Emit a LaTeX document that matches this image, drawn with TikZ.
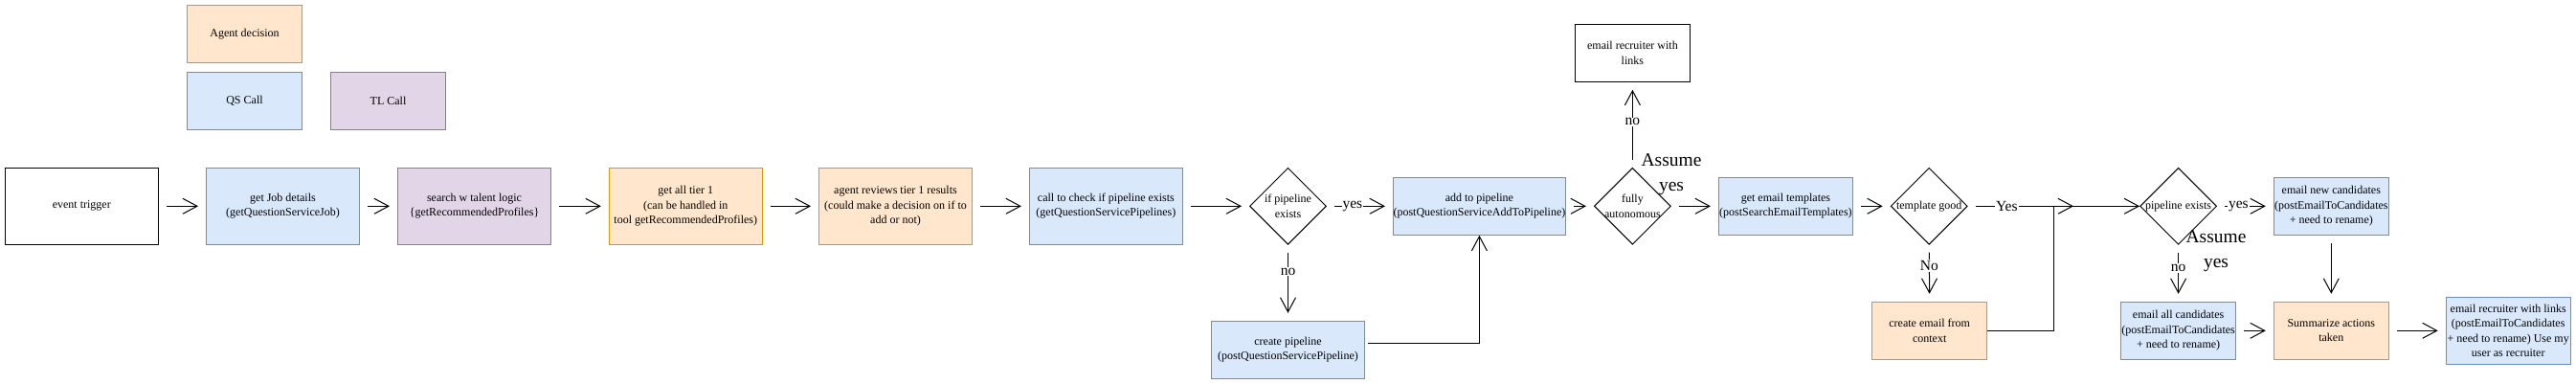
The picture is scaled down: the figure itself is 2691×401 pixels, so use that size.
\documentclass[tikz,border=0pt]{standalone}
\usepackage{fontspec}
\setmainfont{Liberation Serif}
\usetikzlibrary{arrows.meta,shapes.geometric,calc}
\definecolor{orF}{HTML}{FFE6CC}
\definecolor{orD}{HTML}{D79B00}
\definecolor{blF}{HTML}{DAE8FC}
\definecolor{blD}{HTML}{6C8EBF}
\definecolor{puF}{HTML}{E1D5E7}
\definecolor{puD}{HTML}{9673A6}
\tikzset{
  box/.style={rectangle, draw, line width=1pt, inner sep=0pt, align=center,
    font=\fontsize{12}{15.5}\selectfont, minimum width=120pt, minimum height=60pt},
  orbox/.style={box, fill=orF, draw=orD},
  blbox/.style={box, fill=blF, draw=blD},
  pubox/.style={box, fill=puF, draw=puD},
  wbox/.style={box, fill=white, draw=black},
  wide/.style={minimum width=160pt, minimum height=80pt},
  dia/.style={diamond, draw, line width=1pt, inner sep=0pt, minimum width=80pt,
    minimum height=80pt, fill=white},
  diatext/.style={inner sep=0pt, align=center, font=\fontsize{12}{15.5}\selectfont},
  conn/.style={draw, line width=1pt, -{Straight Barb[length=15pt,width=16pt]},
    shorten <=8pt, shorten >=8pt},
  lbl/.style={fill=white, inner sep=1pt, font=\fontsize{15.5}{18}\selectfont},
  bigtxt/.style={inner sep=0pt, align=center, font=\fontsize{19.5}{26}\selectfont},
}
\begin{document}
\begin{tikzpicture}[x=1pt,y=-1pt]
\useasboundingbox (0,0) rectangle (2691,401);
% legend
\node[orbox] (legA) at (255.5,35.3) {Agent decision};
\node[blbox] (legQ) at (255.5,105.3) {QS Call};
\node[pubox] (legT) at (405.5,105.3) {TL Call};
% main row
\node[wbox, wide] (et) at (85.3,215.3) {event trigger};
\node[blbox, wide] (gj) at (295.5,215.3) {get Job details\\(getQuestionServiceJob)};
\node[pubox, wide] (sr) at (495.5,215.3) {search w talent logic\\\{getRecommendedProfiles\}};
\node[orbox, wide] (t1) at (716.3,215.3) {get all tier 1\\(can be handled in\\tool getRecommendedProfiles)};
\node[orbox, wide] (ar) at (935.5,215.3) {agent reviews tier 1 results\\(could make a decision on if to\\add or not)};
\node[blbox, wide] (cc) at (1155.4,215.3) {call to check if pipeline exists\\(getQuestionServicePipelines)};
\node[dia, label={[diatext]center:{if pipeline\\exists}}] (ip) at (1345.5,215.3) {};
\node[blbox, minimum width=160pt] (cp) at (1345.5,365.3) {create pipeline\\(postQuestionServicePipeline)};
\node[blbox, minimum width=180pt] (ap) at (1545.4,215.3) {add to pipeline\\(postQuestionServiceAddToPipeline)};
\node[dia, label={[diatext]center:{fully\\autonomous}}] (fa) at (1705.4,215.3) {};
\node[wbox] (er1) at (1705.4,55.3) {email recruiter with\\links};
\node[blbox, minimum width=140pt] (gt) at (1865.4,215.3) {get email templates\\(postSearchEmailTemplates)};
\node[dia, label={[diatext]center:{template good}}] (tg) at (2015.2,215.3) {};
\node[orbox] (ce) at (2015.7,345.3) {create email from\\context};
\node[dia, label={[diatext]center:{pipeline exists}}] (pe) at (2275.6,215.3) {};
\node[blbox] (en) at (2435.3,215.3) {email new candidates\\(postEmailToCandidates\\+ need to rename)};
\node[blbox] (ea) at (2275.6,345.3) {email all candidates\\(postEmailToCandidates\\+ need to rename)};
\node[orbox] (sa) at (2435.3,345.3) {Summarize actions\\taken};
\node[blbox, minimum width=130pt, minimum height=70pt] (er2) at (2620.2,345.3) {email recruiter with links\\(postEmailToCandidates\\+ need to rename) Use my\\user as recruiter};
% free labels
\node[bigtxt] (as1) at (1746,182) {Assume\\yes};
\node[bigtxt] (as2) at (2315,262) {Assume\\yes};
% helper coordinates
\coordinate (yesEnd) at (2166,215.3);
\coordinate (jn) at (2145.7,215.3);
% connectors
\draw[conn] (et) -- (gj);
\draw[conn] (gj) -- (sr);
\draw[conn] (sr) -- (t1);
\draw[conn] (t1) -- (ar);
\draw[conn] (ar) -- (cc);
\draw[conn] (cc) -- (ip);
\draw[conn] (ip) -- (ap) node[lbl, pos=0.39] {yes};
\draw[conn] (ip) -- (cp) node[lbl, pos=0.35] {no};
\draw[conn, shorten <=3pt, shorten >=0pt] ([yshift=7pt]cp.east) -| (ap.south);
\draw[conn] (ap) -- (fa);
\draw[conn] (fa) -- (er1) node[lbl, pos=0.533] {no};
\draw[conn] (fa) -- (gt);
\draw[conn] (gt) -- (tg);
\draw[conn, shorten >=0pt] (tg) -- (yesEnd) node[lbl, pos=0.368] {Yes};
\draw[conn] (tg) -- (ce) node[lbl, pos=0.37] {No};
\draw[conn, shorten <=0pt, shorten >=0pt] (ce.east) -| (jn) -- (pe.west);
\draw[conn] (pe) -- (en) node[lbl, pos=0.38] {yes};
\draw[conn] (pe) -- (ea) node[lbl, pos=0.41] {no};
\draw[conn] (en) -- (sa);
\draw[conn] (ea) -- (sa);
\draw[conn] (sa) -- (er2);
\end{tikzpicture}
\end{document}
